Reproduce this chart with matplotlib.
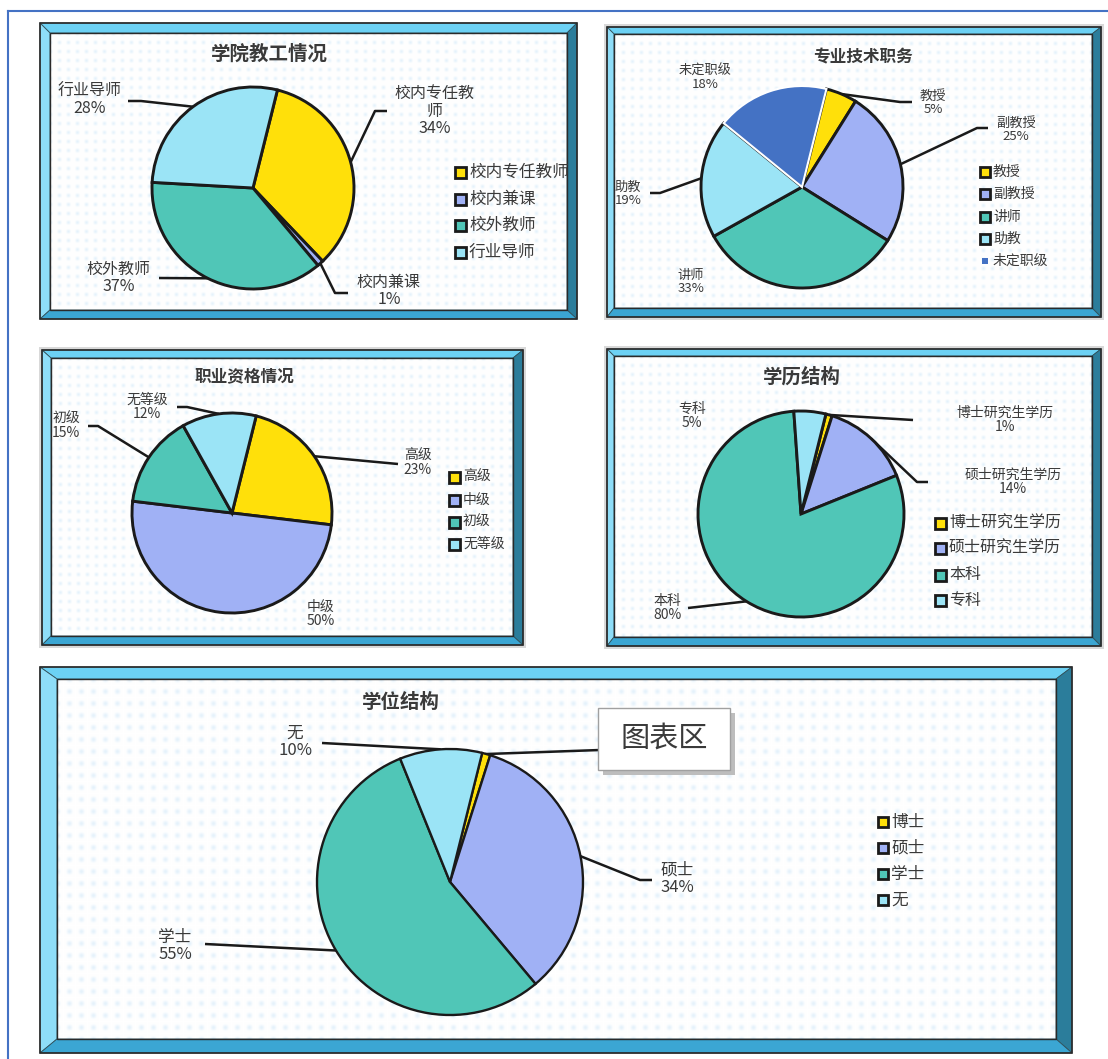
import numpy as np
import matplotlib.pyplot as plt
from matplotlib.patches import Polygon, Rectangle

plt.rcParams['font.family'] = ['Noto Sans CJK SC', 'DejaVu Sans']

W, H = 1108, 1059

# ---- data (percentages) ----
staff_names = ['校内专任教师', '校内兼课', '校外教师', '行业导师']
staff_vals = [34, 1, 37, 28]

rank_names = ['教授', '副教授', '讲师', '助教', '未定职级']
rank_vals = [5, 25, 33, 19, 18]

qual_names = ['高级', '中级', '初级', '无等级']
qual_vals = [23, 50, 15, 12]

edu_names = ['博士研究生学历', '硕士研究生学历', '本科', '专科']
edu_vals = [1, 14, 80, 5]

deg_names = ['博士', '硕士', '学士', '无']
deg_vals = [1, 34, 55, 10]

YELLOW, LAV, TEAL, SKY, NAVY = '#FFE00A', '#A0B1F5', '#50C6B7', '#9BE4F6', '#4472C4'
TXT = '#3A3A3A'
EDGE = '#1A1A1A'
START = 14  # first slice starts 14 deg clockwise from 12 o'clock

fig = plt.figure(figsize=(W / 100, H / 100), dpi=100)
bg = fig.add_axes([0, 0, 1, 1])
bg.set_xlim(0, W)
bg.set_ylim(H, 0)
bg.set_autoscale_on(False)
bg.axis('off')

# page border
bg.plot([8, W], [11, 11], color='#4472C4', lw=1.5)
bg.plot([8, 8], [11, H], color='#4472C4', lw=1.5)


def frame(x0, y0, x1, y1, bw, grey=False, step=9):
    l, t, r, b = bw
    if grey:
        bg.add_patch(Rectangle((x0 - 3, y0 - 3), x1 - x0 + 6, y1 - y0 + 6,
                               fc='#D9D9D9', ec='none', zorder=0.1))
    # dotted plot-area background
    xi0, yi0, xi1, yi1 = x0 + l, y0 + t, x1 - r, y1 - b
    xs = np.arange(int(xi1 - xi0))
    ys = np.arange(int(yi1 - yi0))
    gx, gy = np.meshgrid(xs, ys)
    v = ((np.cos(2 * np.pi * gx / step) + 1) * (np.cos(2 * np.pi * gy / step) + 1) / 4) ** 2
    c0 = np.array([1.0, 1.0, 1.0])
    c1 = np.array([0.90, 0.95, 0.985])
    img = c0 + (c1 - c0) * v[..., None]
    bg.imshow(img, extent=(xi0, xi1, yi1, yi0), aspect='auto', zorder=0.5,
              interpolation='bilinear')
    sides = [
        ([(x0, y0), (x1, y0), (x1 - r, y0 + t), (x0 + l, y0 + t)], '#6CD1F4'),
        ([(x0, y0), (x0 + l, y0 + t), (x0 + l, y1 - b), (x0, y1)], '#8EDDF8'),
        ([(x1, y0), (x1, y1), (x1 - r, y1 - b), (x1 - r, y0 + t)], '#2B7D9B'),
        ([(x0, y1), (x1, y1), (x1 - r, y1 - b), (x0 + l, y1 - b)], '#3BA6D3'),
    ]
    for pts, c in sides:
        bg.add_patch(Polygon(pts, closed=True, fc=c, ec='#30505A', lw=0.6, zorder=1))
    bg.add_patch(Rectangle((x0, y0), x1 - x0, y1 - y0, fc='none', ec='#2A2A2A',
                           lw=1.2, zorder=2))
    bg.add_patch(Rectangle((xi0, yi0), xi1 - xi0, yi1 - yi0, fc='none', ec='#2A2A2A',
                           lw=1.0, zorder=2))


def edge_point(cx, cy, r, vals, i):
    tot = float(sum(vals))
    th = np.deg2rad(START + 360 * (sum(vals[:i]) + vals[i] / 2) / tot)
    return cx + r * np.sin(th), cy - r * np.cos(th)


def pie(cx, cy, r, vals, colors, lw=2.1):
    pad = 1.08
    ax = fig.add_axes([(cx - r * pad) / W, 1 - (cy + r * pad) / H,
                       2 * r * pad / W, 2 * r * pad / H])
    wedges, _ = ax.pie(vals, colors=colors, startangle=90 - START, counterclock=False,
                       radius=1, wedgeprops=dict(edgecolor=EDGE, linewidth=lw))
    ax.set_xlim(-pad, pad)
    ax.set_ylim(-pad, pad)
    ax.axis('off')
    return wedges


def labels(cx, cy, r, names, vals, pos, leaders, fs, wrap=None):
    tot = float(sum(vals))
    for i, (name, v) in enumerate(zip(names, vals)):
        if pos[i] is None:
            continue
        txt = name
        if wrap and len(name) > wrap:
            txt = name[:wrap] + '\n' + name[wrap:]
        txt += '\n%d%%' % round(100 * v / tot)
        bg.text(pos[i][0], pos[i][1], txt, ha='center', va='center', fontsize=fs,
                color=TXT, linespacing=1.05, zorder=5)
        if leaders[i] is not None:
            sx, sy = edge_point(cx, cy, r, vals, i)
            px = [sx] + [p[0] for p in leaders[i]]
            py = [sy] + [p[1] for p in leaders[i]]
            bg.plot(px, py, color=EDGE, lw=1.8, zorder=4, solid_capstyle='butt')


def legend(x, ys, names, colors, fs, ms=11, plain=()):
    for i, (name, c, y) in enumerate(zip(names, colors, ys)):
        if i in plain:
            s = 6
            bg.add_patch(Rectangle((x + (ms - s) / 2, y - s / 2), s, s, fc=c, ec='none', zorder=5))
        else:
            bg.add_patch(Rectangle((x, y - ms / 2), ms, ms, fc=c, ec=EDGE, lw=2.0, zorder=5))
        bg.text(x + ms + 3, y, name, ha='left', va='center', fontsize=fs, color=TXT, zorder=5)


# ---- chart 1: 学院教工情况 ----
frame(40, 23, 577, 319, (10, 10, 10, 9))
bg.text(269, 54, '学院教工情况', ha='center', va='center', fontsize=14,
        fontweight='bold', color=TXT)
c1 = [YELLOW, LAV, TEAL, SKY]
pie(253, 188, 101, staff_vals, c1)
labels(253, 188, 101, staff_names, staff_vals,
       [(435, 111), (389, 291), (119, 278), (90, 100)],
       [[(375, 111), (387, 111)], [(335, 293), (348, 293)],
        [(159, 278)], [(141, 101), (128, 101)]],
       fs=11.5, wrap=5)
legend(455, [172, 199, 225, 252], staff_names, c1, fs=12)

# ---- chart 2: 专业技术职务 ----
frame(607, 27, 1101, 317, (7, 7, 9, 9), grey=True)
bg.text(863, 57, '专业技术职务', ha='center', va='center', fontsize=12,
        fontweight='bold', color=TXT)
c2 = [YELLOW, LAV, TEAL, SKY, NAVY]
w2 = pie(802, 187, 101, rank_vals, c2)
w2[-1].set_edgecolor('white')
w2[-1].set_linewidth(1.5)
labels(802, 187, 101, rank_names, rank_vals,
       [(933, 103), (1016, 130), (691, 282), (628, 194), (705, 78)],
       [[(900, 102), (912, 102)], [(977, 128), (988, 128)], None,
        [(660, 193), (650, 193)], None],
       fs=9.5)
legend(980, [172, 194, 217, 239, 261], rank_names, c2, fs=10, ms=10, plain=(4,))

# ---- chart 3: 职业资格情况 ----
frame(42, 350, 523, 645, (9, 8, 10, 9), grey=True)
bg.text(244, 376, '职业资格情况', ha='center', va='center', fontsize=12,
        fontweight='bold', color=TXT)
c3 = [YELLOW, LAV, TEAL, SKY]
pie(232, 513, 100, qual_vals, c3)
labels(232, 513, 100, qual_names, qual_vals,
       [(418, 463), (321, 614), (66, 426), (147, 407)],
       [[(398, 464)], None, [(98, 426), (88, 426)], [(187, 407), (177, 407)]],
       fs=10)
legend(449, [477, 500, 522, 544], qual_names, c3, fs=10, ms=11)

# ---- chart 4: 学历结构 ----
frame(607, 349, 1101, 646, (7, 7, 9, 9), grey=True)
bg.text(802, 377, '学历结构', ha='center', va='center', fontsize=14,
        fontweight='bold', color=TXT)
c4 = [YELLOW, LAV, TEAL, SKY]
pie(801, 514, 103, edu_vals, c4)
labels(801, 514, 103, edu_names, edu_vals,
       [(1005, 420), (1013, 482), (667, 608), (692, 416)],
       [[(913, 420)], [(917, 482), (928, 482)], [(688, 608)], None],
       fs=10)
legend(935, [523, 548, 575, 600], edu_names, c4, fs=11.5, ms=11)

# ---- chart 5: 学位结构 ----
frame(40, 667, 1072, 1053, (17, 12, 16, 14), step=12)
bg.text(401, 702, '学位结构', ha='center', va='center', fontsize=14,
        fontweight='bold', color=TXT)
c5 = [YELLOW, LAV, TEAL, SKY]
pie(450, 882, 133, deg_vals, c5, lw=1.7)
labels(450, 882, 133, deg_names, deg_vals,
       [None, (677, 879), (175, 946), (295, 742)],
       [[(600, 750)], [(640, 880), (652, 880)], [(205, 944)], [(322, 743)]],
       fs=12)
# 博士 label is hidden behind the tooltip; its leader still shows
sx, sy = edge_point(450, 882, 133, deg_vals, 0)
bg.plot([sx, 600], [sy, 750], color=EDGE, lw=1.8, zorder=4)
legend(878, [822, 848, 874, 900], deg_names, c5, fs=12, ms=10)

# "图表区" tooltip
bg.add_patch(Rectangle((603, 713), 132, 62, fc='#BDBDBD', ec='none', zorder=6))
bg.add_patch(Rectangle((598, 708), 132, 62, fc='white', ec='#A0A0A0', lw=1, zorder=7))
bg.text(664, 739, '图表区', ha='center', va='center', fontsize=21, color=TXT, zorder=8)

fig.savefig('out.png', dpi=100)
